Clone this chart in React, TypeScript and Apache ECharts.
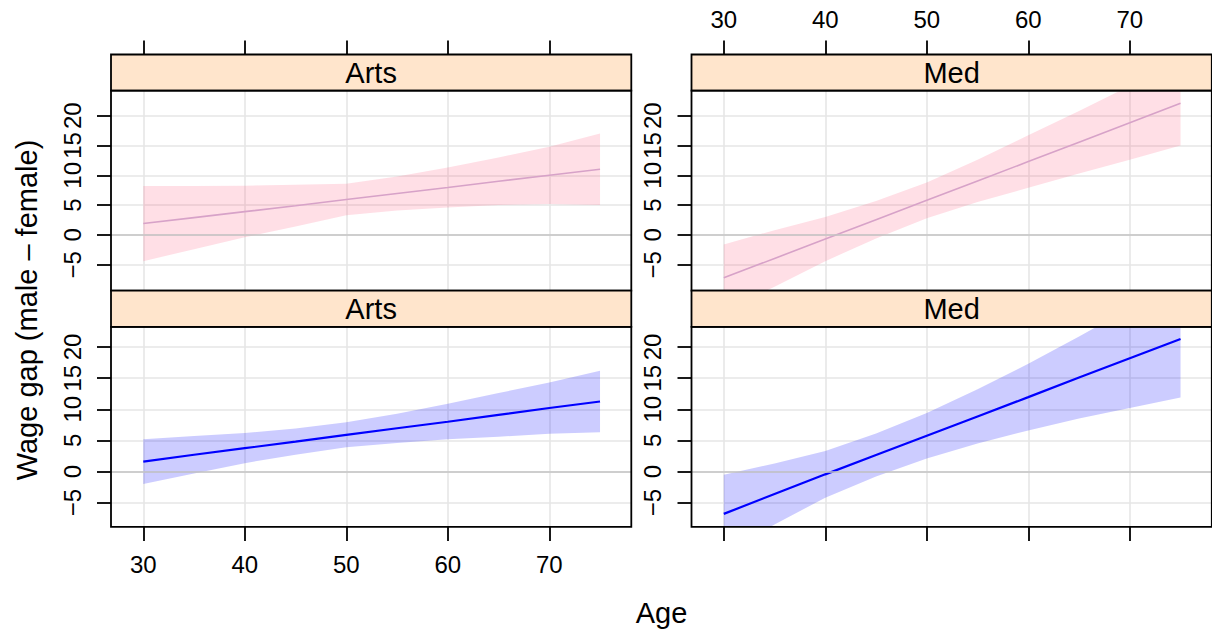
import React, { useEffect, useRef } from "react";
import * as echarts from "echarts";

// ---- data ----
const ages = [30, 35, 40, 45, 50, 55, 60, 65, 70, 75];
const xTicks = [30, 40, 50, 60, 70];
const yTicks = [-5, 0, 5, 10, 15, 20];
const fields = ["Arts", "Med"];

const artsTopFit = [1.9, 2.9, 3.9, 4.9, 5.95, 6.95, 7.95, 9.0, 10.0, 11.0];
const artsTopUpper = [8.2, 8.2, 8.25, 8.4, 8.6, 9.8, 11.3, 13.0, 14.8, 17.0];
const artsTopLower = [-4.4, -2.4, -0.4, 1.4, 3.3, 4.1, 4.6, 5.0, 5.2, 5.0];

const medTopFit = [-7.2, -3.95, -0.7, 2.55, 5.8, 9.05, 12.3, 15.55, 18.8, 22.1];
const medTopUpper = [-1.6, 0.8, 3.0, 5.7, 8.8, 12.6, 16.7, 20.8, 25.0, 29.2];
const medTopLower = [-12.8, -8.7, -4.4, -0.6, 2.8, 5.5, 7.9, 10.3, 12.6, 15.0];

const artsBotFit = [1.6, 2.7, 3.75, 4.8, 5.9, 6.95, 8.0, 9.1, 10.2, 11.25];
const artsBotUpper = [5.2, 5.7, 6.2, 6.9, 7.9, 9.3, 10.9, 12.6, 14.3, 16.2];
const artsBotLower = [-2.0, -0.3, 1.35, 2.7, 3.9, 4.6, 5.2, 5.6, 6.05, 6.3];

const medBotFit = [-6.8, -3.6, -0.45, 2.65, 5.75, 8.85, 11.95, 15.1, 18.2, 21.3];
const medBotUpper = [-0.5, 1.3, 3.3, 6.1, 9.4, 13.2, 17.3, 21.7, 26.2, 30.7];
const medBotLower = [-13.1, -8.5, -4.2, -0.8, 2.1, 4.5, 6.6, 8.5, 10.2, 11.9];

const xRange = [26.82, 78.08];
const yRangeTop = [-9.36, 24.19];
const yRangeBottom = [-8.89, 23.23];

// ---- layout ----
const FONT = "Liberation Sans, Arial, Helvetica, sans-serif";
const COLS = [111, 691.5];
const PW = 520.3;
const STRIP_TOP = [54.5, 290.7];
const STRIP_H = 36.2;
const PH = 200;
const STRIP_FILL = "#ffe5cc";
const TICK_FONT = 24;

const panels = [
  { row: 0, col: 0, fit: artsTopFit, up: artsTopUpper, lo: artsTopLower },
  { row: 0, col: 1, fit: medTopFit, up: medTopUpper, lo: medTopLower },
  { row: 1, col: 0, fit: artsBotFit, up: artsBotUpper, lo: artsBotLower },
  { row: 1, col: 1, fit: medBotFit, up: medBotUpper, lo: medBotLower },
];

const rowStyle = [
  { band: "rgba(255, 95, 130, 0.2)", line: "#d7a2c8", width: 1.6 },
  { band: "rgba(0, 0, 255, 0.2)", line: "#0000ff", width: 2.2 },
];

export default function App() {
  const ref = useRef<HTMLDivElement>(null);
  useEffect(() => {
    if (!ref.current) return;
    const chart = echarts.init(ref.current, null, { renderer: "svg" });

    const grid = panels.map((p) => ({
      left: COLS[p.col],
      top: STRIP_TOP[p.row] + STRIP_H,
      width: PW,
      height: PH,
      show: false,
    }));

    const xAxis = panels.map((p, i) => ({
      type: "value",
      gridIndex: i,
      min: xRange[0],
      max: xRange[1],
      position: p.row === 0 ? "top" : "bottom",
      offset: p.row === 0 ? STRIP_H : 0,
      axisLine: { show: false, onZero: false },
      axisTick: {
        show: true,
        length: 14,
        customValues: xTicks,
        lineStyle: { color: "#000", width: 1.8 },
      },
      axisLabel: {
        show: (p.row === 0 && p.col === 1) || (p.row === 1 && p.col === 0),
        customValues: xTicks,
        margin: p.row === 0 ? 23 : 26,
        fontSize: TICK_FONT,
        color: "#000",
        fontFamily: FONT,
      },
      splitLine: { show: true, lineStyle: { color: "#e6e6e6", width: 1.6 } },
    }));

    const yAxis = panels.map((p, i) => ({
      type: "value",
      gridIndex: i,
      min: p.row === 0 ? yRangeTop[0] : yRangeBottom[0],
      max: p.row === 0 ? yRangeTop[1] : yRangeBottom[1],
      position: "left",
      axisLine: { show: false, onZero: false },
      axisTick: {
        show: true,
        length: 14,
        customValues: yTicks,
        lineStyle: { color: "#000", width: 1.8 },
      },
      axisLabel: {
        show: true,
        customValues: yTicks,
        rotate: 90,
        margin: 27,
        fontSize: TICK_FONT,
        color: "#000",
        fontFamily: FONT,
        formatter: (v: number) => String(v).replace("-", "\u2212"),
      },
      splitLine: { show: true, lineStyle: { color: "#e6e6e6", width: 1.6 } },
    }));

    const series: any[] = [];
    panels.forEach((p, i) => {
      const st = rowStyle[p.row];
      const bandData = ages.map((a, k) => [a, p.lo[k], p.up[k]]);
      series.push({
        type: "custom",
        xAxisIndex: i,
        yAxisIndex: i,
        clip: true,
        silent: true,
        data: bandData,
        encode: { x: 0, y: [1, 2] },
        renderItem: (params: any, api: any) => {
          if (params.dataIndex !== 0) return null;
          const pts: number[][] = [];
          for (let k = 0; k < bandData.length; k++) pts.push(api.coord([bandData[k][0], bandData[k][2]]));
          for (let k = bandData.length - 1; k >= 0; k--) pts.push(api.coord([bandData[k][0], bandData[k][1]]));
          return { type: "polygon", shape: { points: pts }, style: { fill: st.band, stroke: "none" } };
        },
        markLine: {
          silent: true,
          symbol: "none",
          label: { show: false },
          lineStyle: { color: "#c4c4c4", width: 1.6, type: "solid" },
          data: [{ yAxis: 0 }],
        },
        z: 2,
      });
      series.push({
        type: "line",
        xAxisIndex: i,
        yAxisIndex: i,
        data: ages.map((a, k) => [a, p.fit[k]]),
        showSymbol: false,
        clip: true,
        silent: true,
        lineStyle: { color: st.line, width: st.width },
        z: 3,
      });
    });

    const graphics: any[] = [];
    panels.forEach((p) => {
      const x = COLS[p.col];
      const sy = STRIP_TOP[p.row];
      graphics.push({
        type: "rect",
        shape: { x, y: sy, width: PW, height: STRIP_H },
        style: { fill: STRIP_FILL, stroke: "#000", lineWidth: 1.8 },
        z: 50,
      });
      graphics.push({
        type: "text",
        x: x + PW / 2,
        y: sy + STRIP_H / 2,
        style: {
          text: fields[p.col],
          fontSize: 29,
          fontFamily: FONT,
          fill: "#000",
          align: "center",
          verticalAlign: "middle",
        },
        z: 51,
      });
      graphics.push({
        type: "rect",
        shape: { x, y: sy + STRIP_H, width: PW, height: PH },
        style: { fill: "none", stroke: "#000", lineWidth: 1.8 },
        z: 50,
      });
    });
    graphics.push({
      type: "text",
      x: 661.5,
      y: 613,
      style: { text: "Age", fontSize: 29, fontFamily: FONT, fill: "#000", align: "center", verticalAlign: "middle" },
    });
    graphics.push({
      type: "text",
      x: 27,
      y: 310,
      rotation: Math.PI / 2,
      style: {
        text: "Wage gap (male \u2013 female)",
        fontSize: 29,
        fontFamily: FONT,
        fill: "#000",
        align: "center",
        verticalAlign: "middle",
      },
    });

    chart.setOption({
      animation: false,
      backgroundColor: "#ffffff",
      grid,
      xAxis,
      yAxis,
      series,
      graphic: graphics,
    });
    return () => chart.dispose();
  }, []);
  return (
    <div
      ref={ref}
      style={{ position: "absolute", left: 0, top: 0, width: 1212, height: 632 }}
    />
  );
}
